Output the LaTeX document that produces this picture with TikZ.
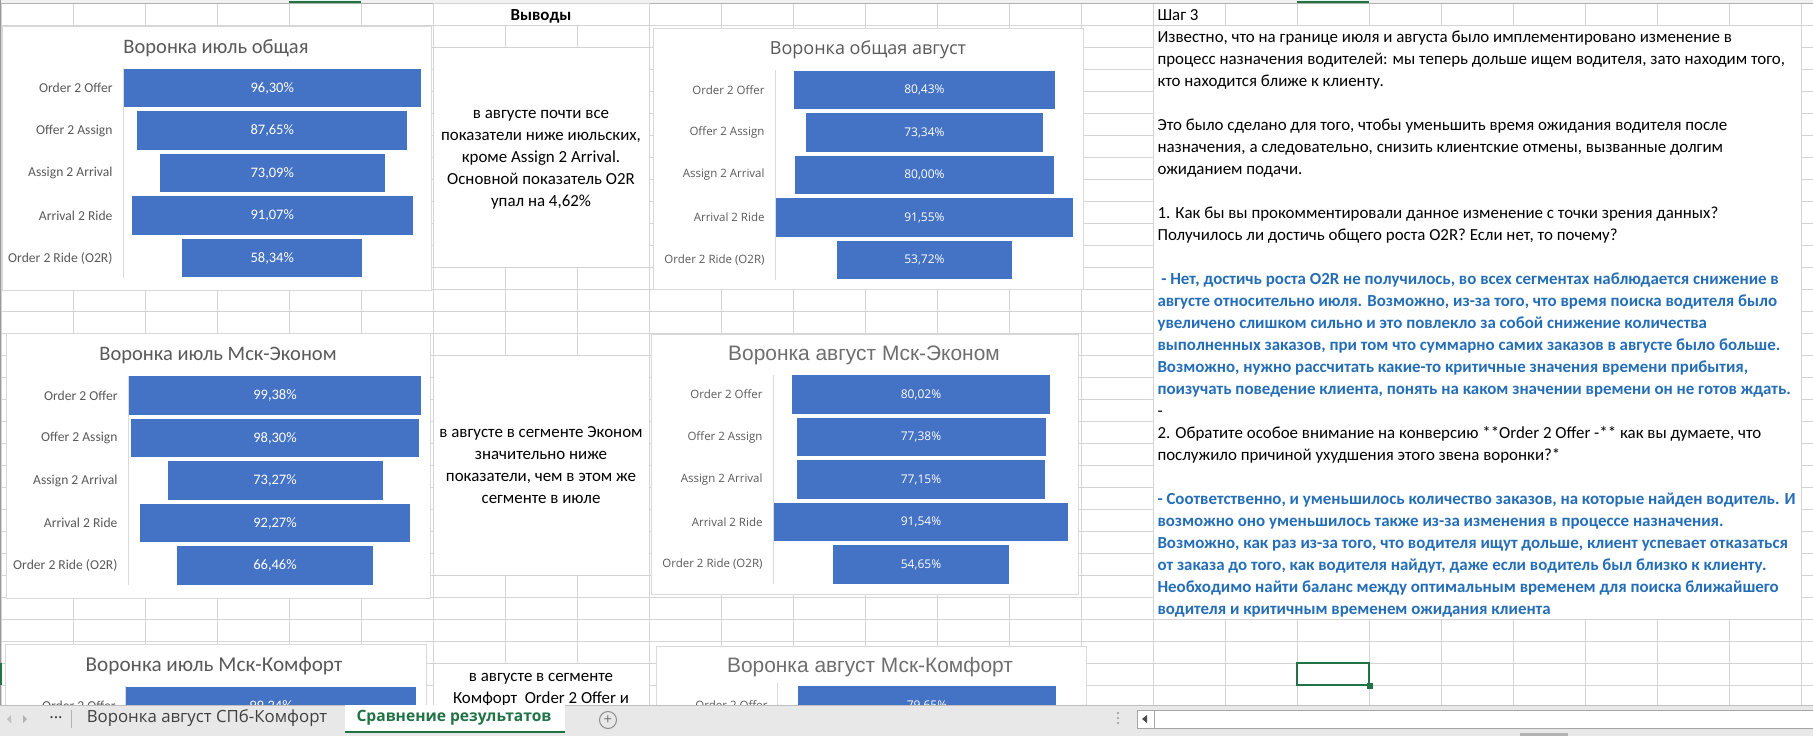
\documentclass[tikz,border=0pt]{standalone}
\usepackage{fontspec}
\setmainfont{Carlito}
\newfontfamily\segoe{Open Sans}
\newfontfamily\arial{Liberation Sans}
\usetikzlibrary{positioning}

\definecolor{barblue}{RGB}{68,114,196}
\definecolor{gridgray}{RGB}{212,212,212}
\definecolor{framegray}{RGB}{217,217,217}
\definecolor{labelgray}{RGB}{89,89,89}
\definecolor{titlegray}{RGB}{110,110,110}
\definecolor{answerblue}{RGB}{36,110,184}
\definecolor{excelgreen}{RGB}{33,115,70}
\definecolor{tabgray}{RGB}{232,232,232}

\begin{document}
\begin{tikzpicture}[x=1pt,y=1pt,node distance=42.5pt,line width=1pt,
  funnelbar/.style={fill=barblue,text=white,minimum height=38.5pt,inner sep=0pt,font=\fontsize{14.5}{16}\selectfont},
  augbar/.style={funnelbar,font=\segoe\fontsize{12}{14}\selectfont},
  cat/.style={anchor=east,inner sep=0pt,text=labelgray,font=\fontsize{13.6}{16}\selectfont},
  augcat/.style={cat,font=\segoe\fontsize{11.5}{14}\selectfont},
  charttitle/.style={text=labelgray,inner sep=0pt,font=\fontsize{20.5}{24}\selectfont},
  augtitle/.style={charttitle,font=\segoe\fontsize{18}{22}\selectfont},
  arialtitle/.style={charttitle,text=titlegray,font=\arial\fontsize{20.9}{24}\selectfont},
  chartframe/.style={draw=framegray,fill=white},
  axisline/.style={draw=framegray},
  cellbox/.style={draw=gridgray,fill=white},
  celltext/.style={anchor=base west,inner sep=0pt,font=\fontsize{16.9}{20}\selectfont},
  answer/.style={celltext,text=answerblue,font=\bfseries\fontsize{16.9}{20}\selectfont},
  midtext/.style={anchor=base,inner sep=0pt,font=\fontsize{16.9}{20}\selectfont},
  tabtext/.style={inner sep=0pt,text=black!75,font=\segoe\fontsize{16.8}{19}\selectfont}]

\useasboundingbox (0,0) rectangle (1813,-736);
\fill[white] (0,0) rectangle (1813,-736);

% sheet grid
\foreach \k in {0,...,32} \draw[gridgray] (0,-3-22*\k) -- (1813,-3-22*\k);
\foreach \k in {0,...,25} \draw[gridgray] (1+72*\k,0) -- (1+72*\k,-705);
\fill[tabgray!60] (0,0) rectangle (1813,-2.5);
\draw[black!30] (0,-3) -- (1813,-3);
\draw[excelgreen,line width=2pt] (289,-1.5) -- (361,-1.5);
\draw[excelgreen,line width=2pt] (1297,-1.5) -- (1369,-1.5);
\draw[black!40] (0.5,0) -- (0.5,-705);
\draw[excelgreen,line width=2pt] (1,-663) -- (1,-685);

% chart 1
\draw[chartframe] (2,-26) rectangle (431,-290);
\node[charttitle] (c1t) at (216,-48) {Воронка июль общая};
\node[funnelbar, minimum width=296.6pt] (c1a) at (272.25,-88) {96,30\%};
\node[funnelbar, minimum width=270pt] (c1b) [below of = c1a] {87,65\%};
\node[funnelbar, minimum width=225.1pt] (c1c) [below of = c1b] {73,09\%};
\node[funnelbar, minimum width=280.5pt] (c1d) [below of = c1c] {91,07\%};
\node[funnelbar, minimum width=179.7pt] (c1e) [below of = c1d] {58,34\%};
\draw[axisline] (c1a.north west) -- (c1a.west |- c1e.south);
\node[cat] (c1la) at (113,0 |- c1a) {Order 2 Offer};
\node[cat] (c1lb) at (113,0 |- c1b) {Offer 2 Assign};
\node[cat] (c1lc) at (113,0 |- c1c) {Assign 2 Arrival};
\node[cat] (c1ld) at (113,0 |- c1d) {Arrival 2 Ride};
\node[cat] (c1le) at (113,0 |- c1e) {Order 2 Ride (O2R)};

% chart 2
\draw[chartframe] (653,-28) rectangle (1083,-289);
\node[augtitle] (c2t) at (868,-50) {Воронка общая август};
\node[augbar, minimum width=260.8pt] (c2a) at (924.4,-90) {80,43\%};
\node[augbar, minimum width=237.8pt] (c2b) [below of = c2a] {73,34\%};
\node[augbar, minimum width=259.4pt] (c2c) [below of = c2b] {80,00\%};
\node[augbar, minimum width=296.9pt] (c2d) [below of = c2c] {91,55\%};
\node[augbar, minimum width=174.2pt] (c2e) [below of = c2d] {53,72\%};
\draw[axisline] (c2d.west |- c2a.north) -- (c2d.west |- c2e.south);
\node[augcat] (c2la) at (765,0 |- c2a) {Order 2 Offer};
\node[augcat] (c2lb) at (765,0 |- c2b) {Offer 2 Assign};
\node[augcat] (c2lc) at (765,0 |- c2c) {Assign 2 Arrival};
\node[augcat] (c2ld) at (765,0 |- c2d) {Arrival 2 Ride};
\node[augcat] (c2le) at (765,0 |- c2e) {Order 2 Ride (O2R)};

% chart 3
\draw[chartframe] (6,-333) rectangle (430,-598);
\node[charttitle] (c3t) at (218,-355) {Воронка июль Мск-Эконом};
\node[funnelbar, minimum width=291.7pt] (c3a) at (275,-395.5) {99,38\%};
\node[funnelbar, minimum width=288.5pt] (c3b) [below of = c3a] {98,30\%};
\node[funnelbar, minimum width=215pt] (c3c) [below of = c3b] {73,27\%};
\node[funnelbar, minimum width=270.8pt] (c3d) [below of = c3c] {92,27\%};
\node[funnelbar, minimum width=195.1pt] (c3e) [below of = c3d] {66,46\%};
\draw[axisline] (c3a.north west) -- (c3a.west |- c3e.south);
\node[cat] (c3la) at (118,0 |- c3a) {Order 2 Offer};
\node[cat] (c3lb) at (118,0 |- c3b) {Offer 2 Assign};
\node[cat] (c3lc) at (118,0 |- c3c) {Assign 2 Arrival};
\node[cat] (c3ld) at (118,0 |- c3d) {Arrival 2 Ride};
\node[cat] (c3le) at (118,0 |- c3e) {Order 2 Ride (O2R)};

% chart 4
\draw[chartframe] (651,-334) rectangle (1078,-594);
\node[arialtitle] (c4t) at (864,-355) {Воронка август Мск-Эконом};
\node[augbar, minimum width=257.5pt] (c4a) at (921,-394.5) {80,02\%};
\node[augbar, minimum width=249pt] (c4b) [below of = c4a] {77,38\%};
\node[augbar, minimum width=248.3pt] (c4c) [below of = c4b] {77,15\%};
\node[augbar, minimum width=294.6pt] (c4d) [below of = c4c] {91,54\%};
\node[augbar, minimum width=175.9pt] (c4e) [below of = c4d] {54,65\%};
\draw[axisline] (c4d.west |- c4a.north) -- (c4d.west |- c4e.south);
\node[augcat] (c4la) at (763,0 |- c4a) {Order 2 Offer};
\node[augcat] (c4lb) at (763,0 |- c4b) {Offer 2 Assign};
\node[augcat] (c4lc) at (763,0 |- c4c) {Assign 2 Arrival};
\node[augcat] (c4ld) at (763,0 |- c4d) {Arrival 2 Ride};
\node[augcat] (c4le) at (763,0 |- c4e) {Order 2 Ride (O2R)};

% charts 5 and 6, cut by the tab bar
\draw[chartframe] (5,-644) rectangle (426,-760);
\node[charttitle, font=\fontsize{21.2}{24}\selectfont] (c5t) at (214,-666) {Воронка июль Мск-Комфорт};
\node[funnelbar, minimum width=290pt] (c5a) at (271,-706) {99,24\%};
\draw[axisline] (c5a.north west) -- ++(0,-40);
\node[cat] (c5la) at (116,0 |- c5a) {Order 2 Offer};
\draw[chartframe] (656,-646) rectangle (1086,-760);
\node[arialtitle] (c6t) at (870,-667) {Воронка август Мск-Комфорт};
\node[augbar, minimum width=258pt] (c6a) at (927,-705.5) {79,65\%};
\draw[axisline] (777,-683) -- (777,-730);
\node[augcat] (c6la) at (768,0 |- c6a) {Order 2 Offer};

% conclusions column
\draw[cellbox] (433,-3) rectangle (649,-25);
\node[midtext, font=\bfseries\fontsize{16.9}{20}\selectfont] (hdr) at (541,-20) {Выводы};
\draw[cellbox] (433,-47) rectangle (649,-267);
\node[midtext] (m1a) at (541,-118) {в августе почти все};
\node[midtext] (m1b) at (541,-140) {показатели ниже июльских,};
\node[midtext] (m1c) at (541,-162) {кроме Assign 2 Arrival.};
\node[midtext] (m1d) at (541,-184) {Основной показатель O2R};
\node[midtext] (m1e) at (541,-206) {упал на 4,62\%};
\draw[cellbox] (433,-355) rectangle (649,-575);
\node[midtext] (m2a) at (541,-437) {в августе в сегменте Эконом};
\node[midtext] (m2b) at (541,-459) {значительно ниже};
\node[midtext] (m2c) at (541,-481) {показатели, чем в этом же};
\node[midtext] (m2d) at (541,-503) {сегменте в июле};
\draw[cellbox] (433,-663) rectangle (649,-760);
\node[midtext] (m3a) at (541,-681) {в августе в сегменте};
\node[midtext] (m3b) at (541,-703) {Комфорт\ \ Order 2 Offer и};

% step 3 text
\node[celltext] (s0) at (1157,-20) {Шаг 3};
\draw[cellbox] (1153,-25) rectangle (1801,-619);
\node[celltext] (s1) at (1157,-42.5) {Известно, что на границе июля и августа было имплементировано изменение в};
\node[celltext] (s2) at (1157,-64.5) {процесс назначения водителей: мы теперь дольше ищем водителя, зато находим того,};
\node[celltext] (s3) at (1157,-86.5) {кто находится ближе к клиенту.};
\node[celltext] (s5) at (1157,-130.5) {Это было сделано для того, чтобы уменьшить время ожидания водителя после};
\node[celltext] (s6) at (1157,-152.5) {назначения, а следовательно, снизить клиентские отмены, вызванные долгим};
\node[celltext] (s7) at (1157,-174.5) {ожиданием подачи.};
\node[celltext] (s9) at (1157,-218.5) {1. Как бы вы прокомментировали данное изменение с точки зрения данных?};
\node[celltext] (s10) at (1157,-240.5) {Получилось ли достичь общего роста O2R? Если нет, то почему?};
\node[answer] (s12) at (1157,-284.5) {\ - Нет, достичь роста O2R не получилось, во всех сегментах наблюдается снижение в};
\node[answer] (s13) at (1157,-306.5) {августе относительно июля. Возможно, из-за того, что время поиска водителя было};
\node[answer] (s14) at (1157,-328.5) {увеличено слишком сильно и это повлекло за собой снижение количества};
\node[answer] (s15) at (1157,-350.5) {выполненных заказов, при том что суммарно самих заказов в августе было больше.};
\node[answer] (s16) at (1157,-372.5) {Возможно, нужно рассчитать какие-то критичные значения времени прибытия,};
\node[answer] (s17) at (1157,-394.5) {поизучать поведение клиента, понять на каком значении времени он не готов ждать.};
\node[celltext] (s18) at (1157,-416.5) {-};
\node[celltext] (s19) at (1157,-438.5) {2. Обратите особое внимание на конверсию **Order 2 Offer -** как вы думаете, что};
\node[celltext] (s20) at (1157,-460.5) {послужило причиной ухудшения этого звена воронки?*};
\node[answer] (s22) at (1157,-504.5) {- Соответственно, и уменьшилось количество заказов, на которые найден водитель. И};
\node[answer] (s23) at (1157,-526.5) {возможно оно уменьшилось также из-за изменения в процессе назначения.};
\node[answer] (s24) at (1157,-548.5) {Возможно, как раз из-за того, что водителя ищут дольше, клиент успевает отказаться};
\node[answer] (s25) at (1157,-570.5) {от заказа до того, как водителя найдут, даже если водитель был близко к клиенту.};
\node[answer] (s26) at (1157,-592.5) {Необходимо найти баланс между оптимальным временем для поиска ближайшего};
\node[answer] (s27) at (1157,-614.5) {водителя и критичным временем ожидания клиента};

% selected cell
\draw[excelgreen,line width=2pt] (1297,-663) rectangle (1369,-685);
\fill[excelgreen] (1366.5,-682.5) rectangle (1372.5,-688.5);

% sheet tabs
\fill[tabgray] (0,-705) rectangle (1813,-736);
\draw[black!25] (0,-705) -- (1813,-705);
\fill[black!25] (7,-719) -- (11,-715) -- (11,-723) -- cycle;
\fill[black!30] (27,-719) -- (23,-715) -- (23,-723) -- cycle;
\node[tabtext] (more) at (56,-718) {...};
\draw[black!30] (71,-710) -- (71,-728);
\node[tabtext] (tab1) at (207,-718) {Воронка август СПб-Комфорт};
\fill[white] (345,-705) rectangle (565,-733);
\draw[excelgreen,line width=2.5pt] (345,-732) -- (565,-732);
\node[tabtext, text=excelgreen, font=\segoe\bfseries\fontsize{15.6}{18}\selectfont] (tab2) at (454,-718) {Сравнение результатов};
\node[circle, draw=black!45, minimum size=17pt, inner sep=0pt, text=black!55, font=\segoe\fontsize{15}{15}\selectfont] (addsheet) at (608,-720) {+};
\fill[black!40] (1118,-713) circle (1.2) (1118,-718) circle (1.2) (1118,-723) circle (1.2);
\draw[black!35, fill=white] (1137,-710) rectangle (1814,-728);
\draw[black!35] (1154,-710) -- (1154,-728);
\fill[black!70] (1142,-719) -- (1147,-715) -- (1147,-723) -- cycle;
\fill[black!30] (1520,-733) rectangle (1568,-736);
\end{tikzpicture}
\end{document}
